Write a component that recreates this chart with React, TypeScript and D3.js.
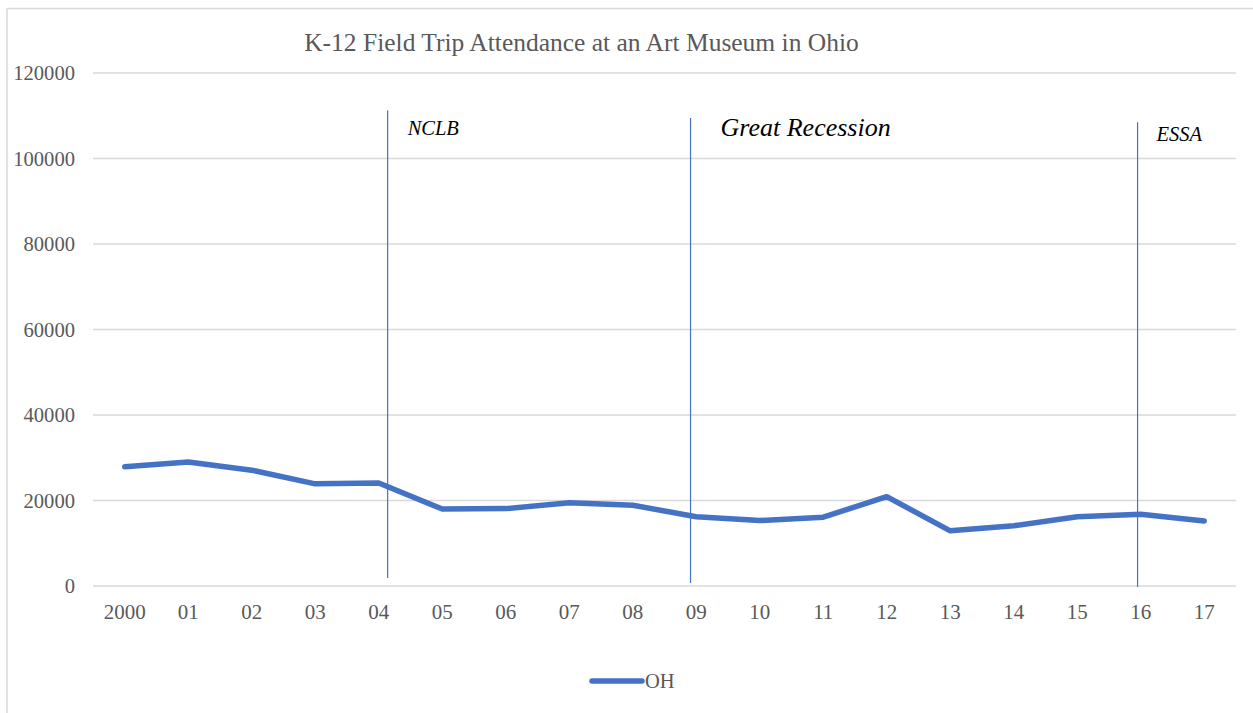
import React from "react";
import * as d3 from "d3";

const categories = ["2000","01","02","03","04","05","06","07","08","09","10","11","12","13","14","15","16","17"];
const ohValues = [27900,29000,27100,23900,24100,18000,18100,19500,18900,16200,15300,16100,20900,12900,14100,16200,16800,15200];
const yTicks = [0,20000,40000,60000,80000,100000,120000];
const seriesName = "OH";
const title = "K-12 Field Trip Attendance at an Art Museum in Ohio";
// annotation lines: position in category index units, top/bottom in value units
const annotations = [
  { label: "NCLB", pos: 4.14, top: 111300, bottom: 1900, size: 20.5, dx: 20, dy: 25 },
  { label: "Great Recession", pos: 8.91, top: 109500, bottom: 700, size: 26, dx: 30, dy: 18 },
  { label: "ESSA", pos: 15.95, top: 108500, bottom: -250, size: 20.5, dx: 19, dy: 19 },
];

const W = 1253, H = 713;
const margin = { left: 93, right: 17, top: 73, bottom: 127 };
const font = "'Liberation Serif', 'Times New Roman', serif";
const blue = "#4472C4";
const grey = "#595959";

export default function App() {
  const x = d3.scaleBand<string>().domain(categories).range([margin.left, W - margin.right]).padding(0);
  const y = d3.scaleLinear().domain([0, 120000]).range([H - margin.bottom, margin.top]);
  const cx = (c: string) => (x(c) as number) + x.bandwidth() / 2;
  const posX = (p: number) => margin.left + x.bandwidth() * (p + 0.5);
  const line = d3.line<number>().x((_, i) => cx(categories[i])).y((d) => y(d));

  return (
    <svg width={W} height={H} style={{ position: "absolute", left: 0, top: 0, background: "#fff" }}>
      <rect x={0} y={0} width={W} height={H} fill="#fff" />
      <line x1={7} x2={7} y1={8.5} y2={H + 5} stroke="#d9d9d9" strokeWidth={1.5} />
      <line x1={7} x2={W + 5} y1={8.5} y2={8.5} stroke="#d9d9d9" strokeWidth={1.5} />
      <text x={581.5} y={51} textAnchor="middle" fontFamily={font} fontSize={25.5} fill={grey}>{title}</text>
      {yTicks.map((t) => (
        <g key={t}>
          <line x1={margin.left} x2={W - margin.right} y1={y(t)} y2={y(t)} stroke="#d9d9d9" strokeWidth={1.3} />
          <text x={75} y={y(t) + 7} textAnchor="end" fontFamily={font} fontSize={20.6} fill={grey}>{t}</text>
        </g>
      ))}
      {categories.map((c) => (
        <text key={c} x={cx(c)} y={H - margin.bottom + 33} textAnchor="middle" fontFamily={font} fontSize={21} fill={grey}>{c}</text>
      ))}
      {annotations.map((a) => (
        <g key={a.label}>
          <line x1={posX(a.pos)} x2={posX(a.pos)} y1={y(a.top)} y2={y(a.bottom)} stroke={blue} strokeWidth={1.2} />
          <text x={posX(a.pos) + a.dx} y={y(a.top) + a.dy} fontFamily={font} fontStyle="italic" fontSize={a.size} fill="#000">{a.label}</text>
        </g>
      ))}
      <path d={line(ohValues) || ""} fill="none" stroke={blue} strokeWidth={5.5} strokeLinecap="round" strokeLinejoin="round" />
      <line x1={592} x2={642} y1={681} y2={681} stroke={blue} strokeWidth={5.5} strokeLinecap="round" />
      <text x={645} y={688} fontFamily={font} fontSize={20.5} fill={grey}>{seriesName}</text>
    </svg>
  );
}
